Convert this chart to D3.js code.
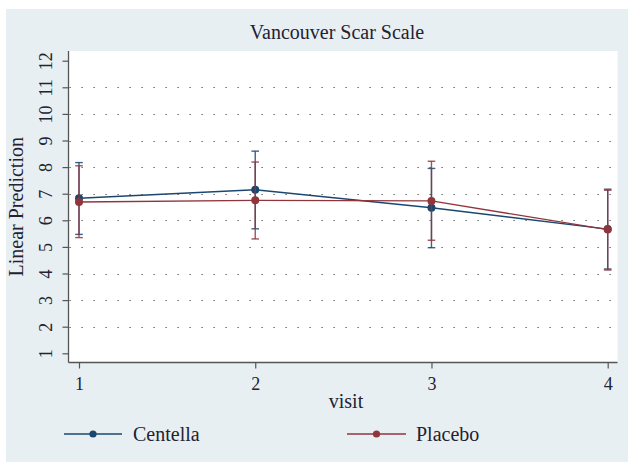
<!DOCTYPE html>
<html>
<head>
<meta charset="utf-8">
<script src="https://cdn.jsdelivr.net/npm/d3@7"></script>
<style>
  html, body { margin: 0; padding: 0; background: #ffffff; }
  svg { display: block; }
</style>
</head>
<body>
<svg id="chart" width="628" height="462"></svg>
<script>
const visits = [1, 2, 3, 4];
const seriesNames = ["Centella", "Placebo"];
const centellaMean = [6.83, 7.15, 6.47, 5.67];
const centellaLow  = [5.47, 5.68, 4.97, 4.17];
const centellaHigh = [8.17, 8.60, 7.95, 7.17];
const placeboMean  = [6.69, 6.75, 6.73, 5.65];
const placeboLow   = [5.35, 5.30, 5.25, 4.13];
const placeboHigh  = [8.05, 8.19, 8.22, 7.13];
const yTicks = [1, 2, 3, 4, 5, 6, 7, 8, 9, 10, 11, 12];
const gridTicks = [2, 3, 4, 5, 6, 7, 8, 9, 10, 11];
const titleText = "Vancouver Scar Scale";
const xLabel = "visit";
const yLabel = "Linear Prediction";
const colors = ["#1a476f", "#90353b"];

const FONT = "'Liberation Serif', 'Times New Roman', serif";
const TXT = "#222233";

const series = [
  { name: seriesNames[0], mean: centellaMean, low: centellaLow, high: centellaHigh, color: colors[0] },
  { name: seriesNames[1], mean: placeboMean, low: placeboLow, high: placeboHigh, color: colors[1] }
];

const svg = d3.select("#chart");
svg.append("rect").attr("x", 6).attr("y", 9).attr("width", 622).attr("height", 453).attr("fill", "#e8eff2");

const plot = { left: 68.5, right: 617.5, top: 51, bottom: 362.5 };
svg.append("rect").attr("x", plot.left).attr("y", plot.top)
  .attr("width", plot.right - plot.left).attr("height", plot.bottom - plot.top).attr("fill", "#ffffff");

const x = d3.scaleLinear().domain([1, 4]).range([79, 607.7]);
const y = d3.scaleLinear().domain([1, 12]).range([353.3, 60.7]);

svg.append("g").selectAll("line").data(gridTicks).join("line")
  .attr("x1", plot.left + 1).attr("x2", plot.right)
  .attr("y1", d => Math.round(y(d)) + 0.5).attr("y2", d => Math.round(y(d)) + 0.5)
  .attr("stroke", "#444").attr("stroke-width", 1.2)
  .attr("stroke-dasharray", "1.2,10.8").attr("stroke-dashoffset", -12);

const yAxis = d3.axisLeft(y).tickValues(yTicks).tickSize(6).tickFormat(d3.format("d"));
const gy = svg.append("g").attr("transform", `translate(${plot.left},0)`).call(yAxis)
  .attr("font-family", FONT).attr("font-size", 18);
gy.select(".domain").attr("d", `M0,${plot.top}V${plot.bottom}`).attr("stroke", "#555").attr("stroke-width", 1.3);
gy.selectAll(".tick line").attr("stroke", "#555").attr("stroke-width", 1.2);
gy.selectAll(".tick text")
  .attr("x", 0).attr("y", 0)
  .attr("transform", "translate(-23,0) rotate(-90)")
  .attr("text-anchor", "middle").attr("dy", "0.35em").attr("fill", TXT);

const xAxis = d3.axisBottom(x).tickValues(visits).tickSize(6).tickFormat(d3.format("d"));
const gx = svg.append("g").attr("transform", `translate(0,${plot.bottom})`).call(xAxis)
  .attr("font-family", FONT).attr("font-size", 18);
gx.select(".domain").attr("d", `M${plot.left},0H${plot.right}`).attr("stroke", "#555").attr("stroke-width", 1.3);
gx.selectAll(".tick line").attr("stroke", "#555").attr("stroke-width", 1.2);
gx.selectAll(".tick text").attr("y", 27).attr("dy", 0).attr("fill", TXT);

svg.append("text").attr("x", 337).attr("y", 39).attr("text-anchor", "middle")
  .attr("font-family", FONT).attr("font-size", 20).attr("fill", TXT).text(titleText);
svg.append("text").attr("x", 346).attr("y", 408).attr("text-anchor", "middle")
  .attr("font-family", FONT).attr("font-size", 20).attr("fill", TXT).text(xLabel);
svg.append("text").attr("transform", `translate(23,${(plot.top + plot.bottom) / 2}) rotate(-90)`)
  .attr("text-anchor", "middle").attr("font-family", FONT).attr("font-size", 20).attr("fill", TXT).text(yLabel);

series.forEach(s => {
  const g = svg.append("g");
  const pts = visits.map((v, i) => ({ v, m: s.mean[i], lo: s.low[i], hi: s.high[i] }));
  g.selectAll("line.ci").data(pts).join("line").attr("class", "ci")
    .attr("x1", d => x(d.v)).attr("x2", d => x(d.v))
    .attr("y1", d => y(d.lo)).attr("y2", d => y(d.hi))
    .attr("stroke", s.color).attr("stroke-opacity", 0.85).attr("stroke-width", 1.4);
  ["lo", "hi"].forEach(k => {
    g.selectAll("line.cap" + k).data(pts).join("line").attr("class", "cap" + k)
      .attr("x1", d => x(d.v) - 3.8).attr("x2", d => x(d.v) + 3.8)
      .attr("y1", d => y(d[k])).attr("y2", d => y(d[k]))
      .attr("stroke", s.color).attr("stroke-opacity", 0.85).attr("stroke-width", 1.4);
  });
  const line = d3.line().x(d => x(d.v)).y(d => y(d.m));
  g.append("path").datum(pts).attr("d", line).attr("fill", "none")
    .attr("stroke", s.color).attr("stroke-width", 1.4);
  g.selectAll("circle").data(pts).join("circle")
    .attr("cx", d => x(d.v)).attr("cy", d => y(d.m)).attr("r", 4)
    .attr("fill", s.color);
});

const legendItems = [
  { name: seriesNames[0], color: colors[0], x1: 64, x2: 122, tx: 133 },
  { name: seriesNames[1], color: colors[1], x1: 347, x2: 406, tx: 416 }
];
const ly = 434;
legendItems.forEach(it => {
  const g = svg.append("g");
  g.append("line").attr("x1", it.x1).attr("x2", it.x2).attr("y1", ly).attr("y2", ly)
    .attr("stroke", it.color).attr("stroke-width", 1.4);
  g.append("circle").attr("cx", (it.x1 + it.x2) / 2).attr("cy", ly).attr("r", 3.6).attr("fill", it.color);
  g.append("text").attr("x", it.tx).attr("y", ly).attr("dy", "0.35em")
    .attr("font-family", FONT).attr("font-size", 20).attr("fill", TXT).text(it.name);
});
</script>
</body>
</html>
